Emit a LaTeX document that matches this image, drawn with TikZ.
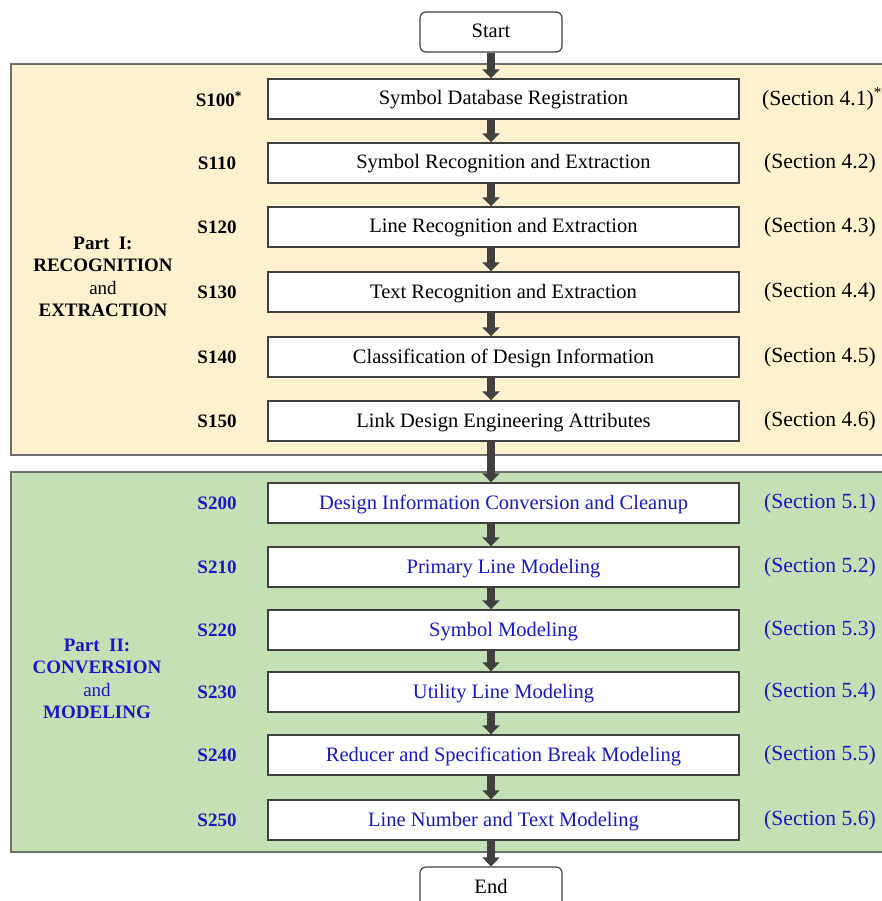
\documentclass[tikz,border=0pt]{standalone}
\usepackage{fontspec}
\setmainfont{Liberation Serif}
\usetikzlibrary{arrows.meta}
\definecolor{peach}{RGB}{255,241,206}
\definecolor{sage}{RGB}{197,224,180}
\definecolor{arr}{RGB}{64,64,64}
\definecolor{myblue}{RGB}{24,24,196}
\definecolor{pborder}{RGB}{110,110,110}
\begin{document}
\begin{tikzpicture}[x=1pt,y=-1pt,
  panel/.style={draw=pborder,line width=1.5pt},
  stepbox/.style={draw=arr,fill=white,line width=1.4pt,minimum width=471pt,minimum height=40pt,inner sep=0pt,text depth=0pt,text height=12pt,font=\fontsize{20.5}{22}\selectfont},
  termbox/.style={draw=arr,fill=white,line width=1.2pt,rounded corners=6pt,minimum width=142pt,minimum height=40pt,inner sep=0pt,text depth=0pt,text height=12pt,font=\fontsize{20.5}{22}\selectfont},
  steplabel/.style={font=\bfseries\fontsize{19}{22}\selectfont},
  seclabel/.style={anchor=west,inner sep=0pt,font=\fontsize{21.6}{22}\selectfont},
  partlabel/.style={align=center,font=\fontsize{19}{22.5}\selectfont},
  flow/.style={draw=arr,line width=8pt,-{Triangle[width=17pt,length=9pt]}}]
\useasboundingbox (0,0) rectangle (882,901);
\clip (0,0) rectangle (882,901);
% panels
\path[panel,fill=peach] (11,64) rectangle (900,455);
\path[panel,fill=sage] (11,472) rectangle (900,852);
% terminals
\node[termbox] (start) at (491,32) {Start};
\node[termbox] (end) at (491,887) {End};
% part I
\node[stepbox] (s100) at (503.5,99) {Symbol Database Registration};
\node[stepbox] (s110) at (503.5,163) {Symbol Recognition and Extraction};
\node[stepbox] (s120) at (503.5,227) {Line Recognition and Extraction};
\node[stepbox] (s130) at (503.5,292) {Text Recognition and Extraction};
\node[stepbox] (s140) at (503.5,357) {Classification of Design Information};
\node[stepbox] (s150) at (503.5,421) {Link Design Engineering Attributes};
\node[steplabel] (l100) at (219,99) {S100\textsuperscript{*}};
\node[steplabel] (l110) at (217,163) {S110};
\node[steplabel] (l120) at (217,227) {S120};
\node[steplabel] (l130) at (217,292) {S130};
\node[steplabel] (l140) at (217,357) {S140};
\node[steplabel] (l150) at (217,421) {S150};
\node[seclabel] (c41) at (762,99) {(Section 4.1)\textsuperscript{*}};
\node[seclabel] (c42) at (764,163) {(Section 4.2)};
\node[seclabel] (c43) at (764,227) {(Section 4.3)};
\node[seclabel] (c44) at (764,292) {(Section 4.4)};
\node[seclabel] (c45) at (764,357) {(Section 4.5)};
\node[seclabel] (c46) at (764,421) {(Section 4.6)};
\node[partlabel] (p1) at (103,277) {\textbf{Part\ \ I:}\\\textbf{RECOGNITION}\\and\\\textbf{EXTRACTION}};
% part II
\begin{scope}[every node/.append style={text=myblue}]
\node[stepbox] (s200) at (503.5,503) {Design Information Conversion and Cleanup};
\node[stepbox] (s210) at (503.5,567) {Primary Line Modeling};
\node[stepbox] (s220) at (503.5,630) {Symbol Modeling};
\node[stepbox] (s230) at (503.5,692) {Utility Line Modeling};
\node[stepbox] (s240) at (503.5,755) {Reducer and Specification Break Modeling};
\node[stepbox] (s250) at (503.5,820) {Line Number and Text Modeling};
\node[steplabel] (l200) at (217,503) {S200};
\node[steplabel] (l210) at (217,567) {S210};
\node[steplabel] (l220) at (217,630) {S220};
\node[steplabel] (l230) at (217,692) {S230};
\node[steplabel] (l240) at (217,755) {S240};
\node[steplabel] (l250) at (217,820) {S250};
\node[seclabel] (c51) at (764,503) {(Section 5.1)};
\node[seclabel] (c52) at (764,567) {(Section 5.2)};
\node[seclabel] (c53) at (764,630) {(Section 5.3)};
\node[seclabel] (c54) at (764,692) {(Section 5.4)};
\node[seclabel] (c55) at (764,755) {(Section 5.5)};
\node[seclabel] (c56) at (764,820) {(Section 5.6)};
\node[partlabel] (p2) at (97,679) {\textbf{Part\ \ II:}\\\textbf{CONVERSION}\\and\\\textbf{MODELING}};
\end{scope}
% arrows
\foreach \a/\b in {start/s100,s100/s110,s110/s120,s120/s130,s130/s140,s140/s150,s150/s200,s200/s210,s210/s220,s220/s230,s230/s240,s240/s250,s250/end}
  \draw[flow] (\a.south -| start.south) -- (\b.north -| start.south);
\end{tikzpicture}
\end{document}
